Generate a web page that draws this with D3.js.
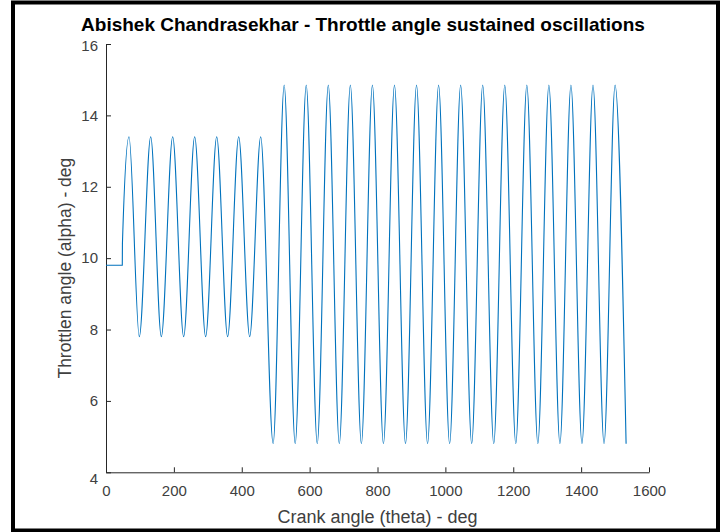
<!DOCTYPE html>
<html><head><meta charset="utf-8">
<script src="https://cdn.jsdelivr.net/npm/d3@7/dist/d3.min.js"></script>
<style>
html,body{margin:0;padding:0;background:#fff;}
svg{display:block;}
text{font-family:"Liberation Sans",Arial,Helvetica,sans-serif;}
</style></head>
<body>
<script>
// ---- data ----
// initial steady throttle, then the point where oscillation starts
const startTheta = [0, 48, 48.4];
const startAlpha = [9.8, 9.8, 10.4];
// small oscillation extrema (theta in deg, alpha in deg)
const smallTheta = [67.8, 98.1, 131.7, 163.0, 196.5, 228.8, 261.3, 293.6, 326.2, 358.4, 391.0, 423.4, 455.8];
const smallAlpha = [13.4, 7.8, 13.4, 7.8, 13.4, 7.8, 13.4, 7.8, 13.4, 7.8, 13.4, 7.8, 13.4];
// large oscillation extrema
const largeTheta = [492.5, 525, 557.5, 590, 622.5, 655, 687.5, 720, 752.5, 785, 817.5, 850, 882.5, 915, 947.5, 980,
  1012.5, 1045, 1077.5, 1110, 1142.5, 1175, 1207.5, 1240, 1272.5, 1305, 1337.5, 1370, 1402.5, 1435, 1467.5, 1500, 1532.5];
const largeAlpha = [4.8, 14.85, 4.8, 14.85, 4.8, 14.85, 4.8, 14.85, 4.8, 14.85, 4.8, 14.85, 4.8, 14.85, 4.8, 14.85,
  4.8, 14.85, 4.8, 14.85, 4.8, 14.85, 4.8, 14.85, 4.8, 14.85, 4.8, 14.85, 4.8, 14.85, 4.8, 14.85, 4.8];
const xTicks = [0, 200, 400, 600, 800, 1000, 1200, 1400, 1600];
const yTicks = [4, 6, 8, 10, 12, 14, 16];
const titleText = "Abishek Chandrasekhar - Throttle angle sustained oscillations";
const xLabel = "Crank angle (theta) - deg";
const yLabel = "Throttlen angle (alpha) - deg";

// ---- build ----
const W = 726, H = 532;
const svg = d3.select("body").append("svg").attr("width", W).attr("height", H);
svg.append("rect").attr("width", W).attr("height", H).attr("fill", "#fff");

const x = d3.scaleLinear().domain([0, 1600]).range([106, 649]);
const y = d3.scaleLinear().domain([4, 16]).range([472.3, 44]);

const pts = [];
startTheta.forEach((t, i) => pts.push([t, startAlpha[i]]));
smallTheta.forEach((t, i) => pts.push([t, smallAlpha[i]]));
largeTheta.forEach((t, i) => pts.push([t, largeAlpha[i]]));

const axisColor = "#262626";

// axes
const gx = svg.append("g").attr("transform", `translate(0,${y(4)})`)
  .call(d3.axisBottom(x).tickValues(xTicks).tickFormat(d3.format("d")).tickSizeInner(-5).tickSizeOuter(0).tickPadding(13));
const gy = svg.append("g").attr("transform", `translate(${x(0)},0)`)
  .call(d3.axisLeft(y).tickValues(yTicks).tickFormat(d3.format("d")).tickSizeInner(-5).tickSizeOuter(0).tickPadding(8));
[gx, gy].forEach(g => {
  g.select(".domain").attr("stroke", axisColor).attr("stroke-width", 1);
  g.selectAll(".tick line").attr("stroke", axisColor);
  g.selectAll(".tick text").attr("fill", "#404040").style("font-size", "15px")
    .style("font-family", '"Liberation Sans",Arial,sans-serif');
});
gy.selectAll(".tick text").filter(d => d === 4).attr("dy", "0.75em");
gy.selectAll(".tick text").filter(d => d === 16).attr("dy", "0.42em");

// line
svg.append("path").datum(pts)
  .attr("fill", "none").attr("stroke", "#0072BD").attr("stroke-width", 1.1)
  .attr("d", d3.line().x(d => x(d[0])).y(d => y(d[1])).curve(d3.curveMonotoneX));

// texts
svg.append("text").attr("x", 363).attr("y", 31).attr("text-anchor", "middle")
  .style("font-size", "19px").style("font-weight", "bold").attr("fill", "#000").text(titleText);
svg.append("text").attr("x", 377.5).attr("y", 523).attr("text-anchor", "middle")
  .style("font-size", "18px").attr("fill", "#404040").text(xLabel);
svg.append("text").attr("transform", `translate(71,${(44 + 472.3) / 2 + 10}) rotate(-90)`).attr("text-anchor", "middle")
  .style("font-size", "17.5px").attr("fill", "#404040").text(yLabel);

// outer frame
svg.append("rect").attr("x", 13).attr("y", 2.5).attr("width", 705).attr("height", 528)
  .attr("fill", "none").attr("stroke", "#000").attr("stroke-width", 4);
</script>
</body></html>
